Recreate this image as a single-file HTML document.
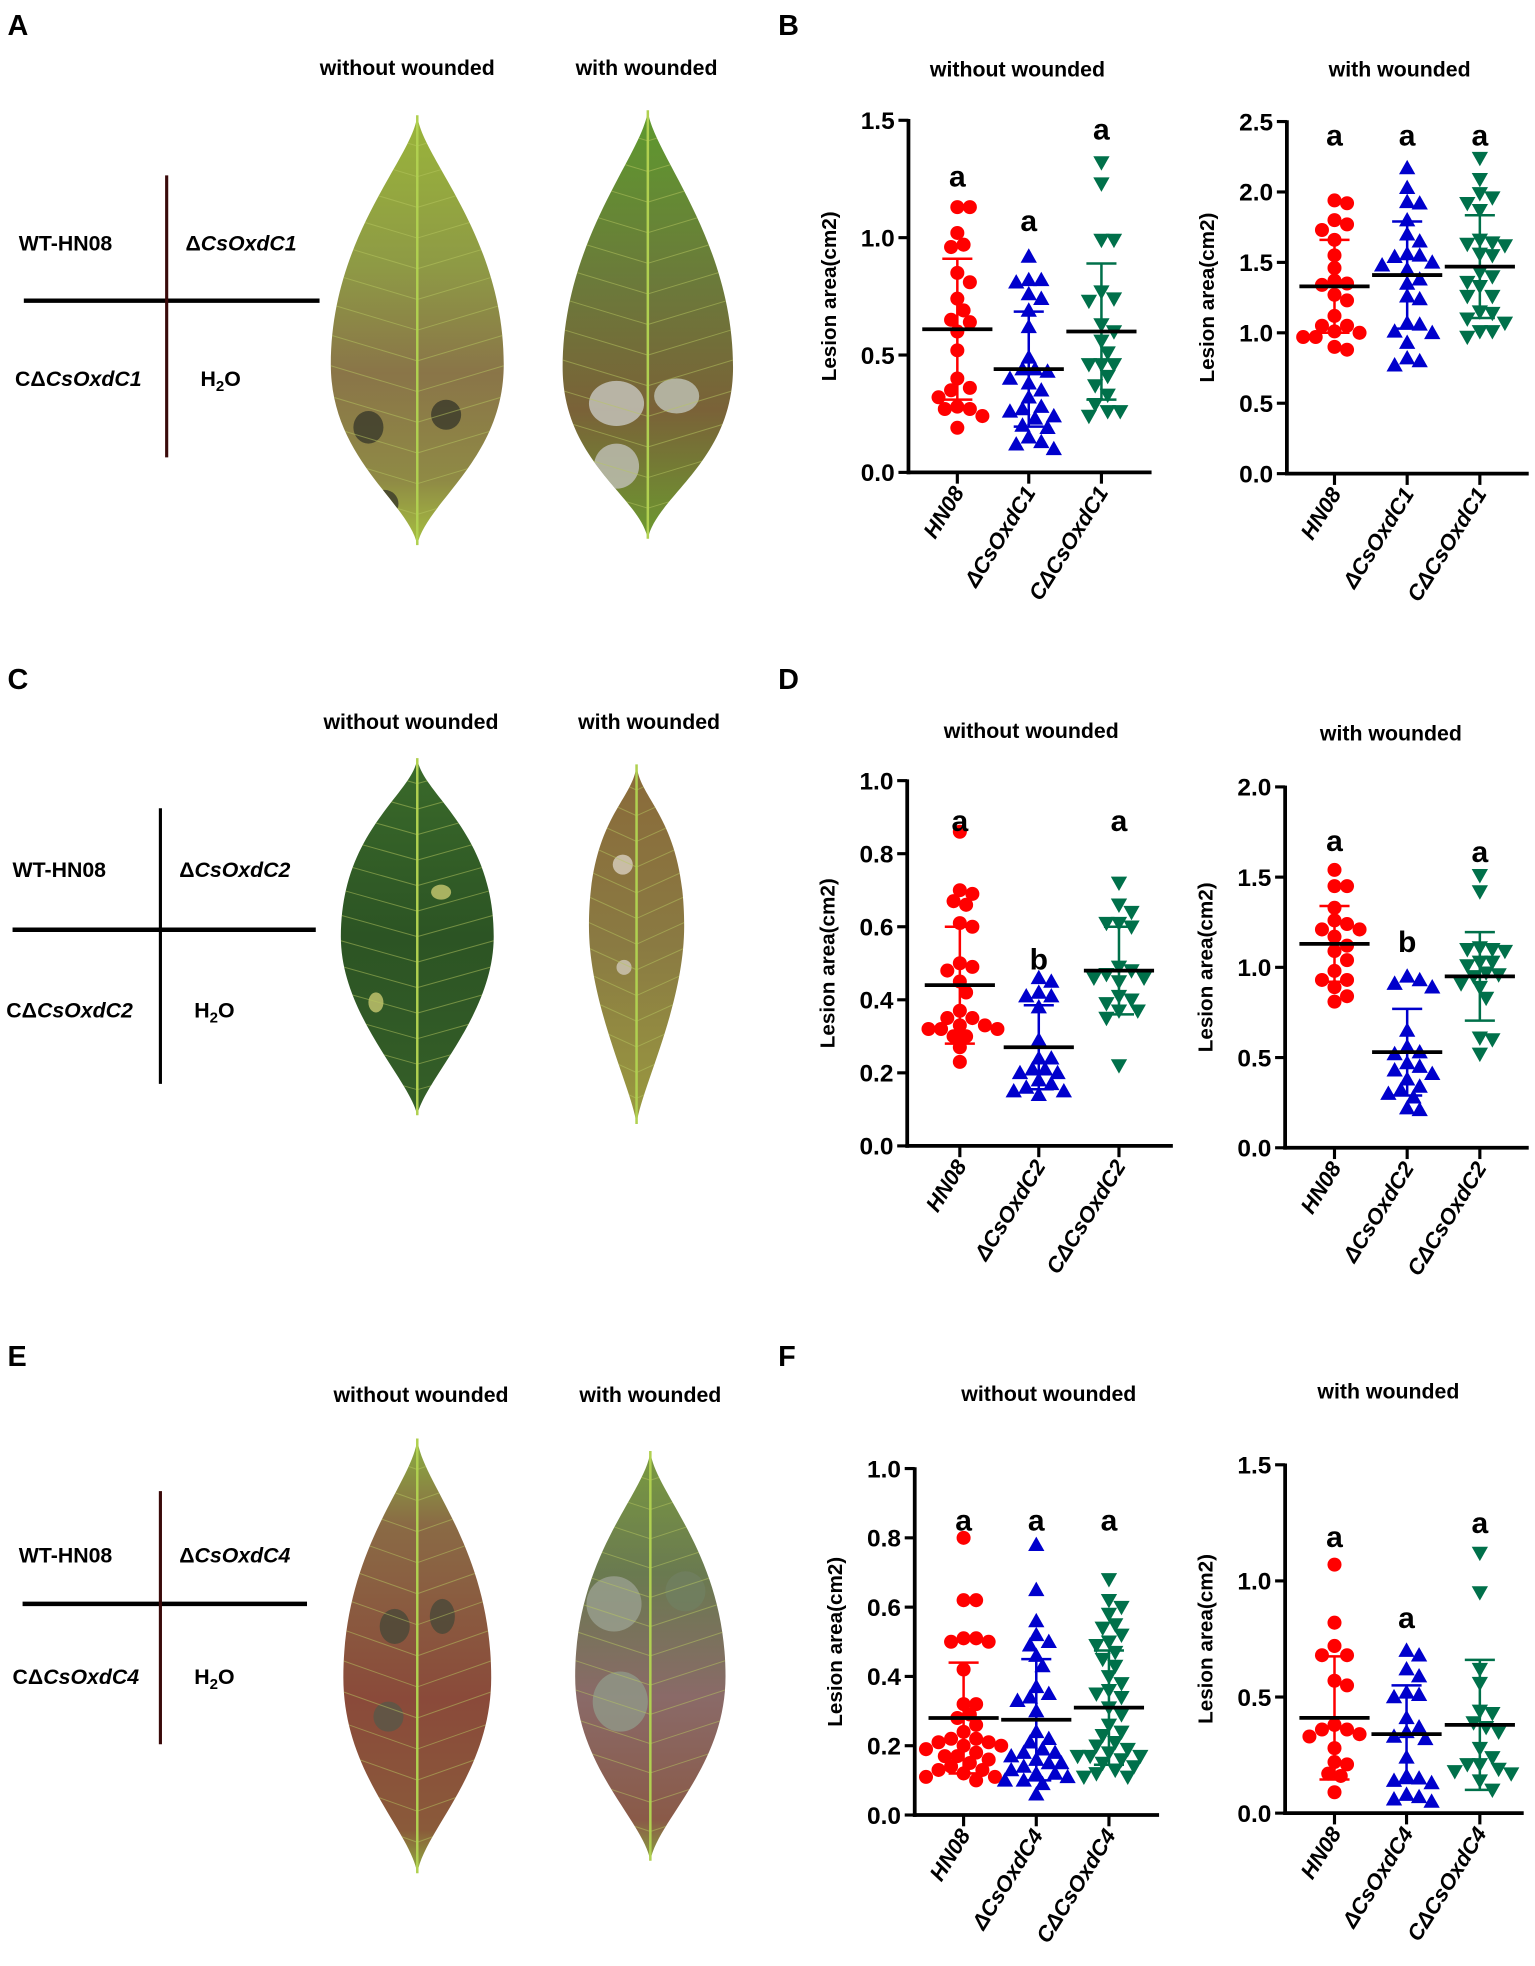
<!DOCTYPE html>
<html><head><meta charset="utf-8">
<style>
html,body{margin:0;padding:0;background:#fff;}
svg{display:block;font-family:"Liberation Sans",Arial,sans-serif;}
</style></head>
<body>
<svg id="fig" width="1535" height="1966" viewBox="0 0 1225 1569" xmlns="http://www.w3.org/2000/svg">
<defs>
<linearGradient id="g1" x1="0" y1="0" x2="0" y2="1"><stop offset="0" stop-color="#9ab53a"/><stop offset="0.35" stop-color="#8e9a45"/><stop offset="0.6" stop-color="#8a7548"/><stop offset="0.85" stop-color="#8f8a45"/><stop offset="1" stop-color="#a6c040"/></linearGradient>
<linearGradient id="g2" x1="0" y1="0" x2="0" y2="1"><stop offset="0" stop-color="#5e9a2e"/><stop offset="0.4" stop-color="#6b7a3a"/><stop offset="0.7" stop-color="#7a6238"/><stop offset="1" stop-color="#6c9a30"/></linearGradient>
<linearGradient id="g3" x1="0" y1="0" x2="0" y2="1"><stop offset="0" stop-color="#3a6a2a"/><stop offset="0.5" stop-color="#2c5424"/><stop offset="1" stop-color="#355f28"/></linearGradient>
<linearGradient id="g4" x1="0" y1="0" x2="0" y2="1"><stop offset="0" stop-color="#8a6a3a"/><stop offset="0.5" stop-color="#8a7a42"/><stop offset="1" stop-color="#9a9a40"/></linearGradient>
<linearGradient id="g5" x1="0" y1="0" x2="0" y2="1"><stop offset="0" stop-color="#8ab040"/><stop offset="0.2" stop-color="#8a6a45"/><stop offset="0.6" stop-color="#8a4a3a"/><stop offset="0.9" stop-color="#8a5a3a"/><stop offset="1" stop-color="#90b040"/></linearGradient>
<linearGradient id="g6" x1="0" y1="0" x2="0" y2="1"><stop offset="0" stop-color="#7a9a40"/><stop offset="0.3" stop-color="#6a7a50"/><stop offset="0.6" stop-color="#8a6a68"/><stop offset="0.9" stop-color="#8a5a48"/><stop offset="1" stop-color="#8aa040"/></linearGradient>
</defs>
<g id="left"></g>
<g id="charts"></g>
</svg>
<script>
// ---------- DATA ----------
const categoriesC1 = ["HN08", "\u0394CsOxdC1", "C\u0394CsOxdC1"];
const categoriesC2 = ["HN08", "\u0394CsOxdC2", "C\u0394CsOxdC2"];
const categoriesC4 = ["HN08", "\u0394CsOxdC4", "C\u0394CsOxdC4"];

const bLeftHN08 = [1.13,1.13,1.02,0.97,0.96,0.85,0.81,0.74,0.69,0.65,0.64,0.60,0.52,0.40,0.36,0.35,0.32,0.28,0.27,0.27,0.24,0.19];
const bLeftDel = [0.92,0.82,0.82,0.81,0.76,0.74,0.69,0.62,0.49,0.44,0.44,0.43,0.40,0.38,0.35,0.32,0.28,0.27,0.26,0.24,0.23,0.20,0.19,0.15,0.13,0.12,0.10];
const bLeftComp = [1.32,1.23,0.99,0.99,0.77,0.74,0.73,0.63,0.60,0.56,0.51,0.46,0.46,0.46,0.41,0.37,0.33,0.29,0.26,0.26,0.24];
const bLeftMean = [0.61,0.44,0.60];
const bLeftSD = [0.30,0.245,0.29];
const bLeftLetters = ["a","a","a"];
const bLeftLetterY = [1.26,1.07,1.46];

const bRightHN08 = [1.94,1.92,1.80,1.77,1.73,1.66,1.55,1.46,1.37,1.35,1.34,1.27,1.23,1.12,1.05,1.05,1.01,1.00,0.97,0.97,0.90,0.88];
const bRightDel = [2.17,2.03,1.93,1.92,1.80,1.70,1.65,1.56,1.55,1.54,1.50,1.48,1.45,1.38,1.35,1.26,1.24,1.07,1.06,1.01,1.00,0.93,0.82,0.80,0.77];
const bRightComp = [2.24,2.09,1.99,1.96,1.92,1.87,1.66,1.64,1.63,1.62,1.56,1.55,1.43,1.40,1.36,1.33,1.26,1.26,1.15,1.14,1.10,1.07,1.01,1.01,0.97];
const bRightMean = [1.33,1.41,1.47];
const bRightSD = [0.33,0.38,0.365];
const bRightLetters = ["a","a","a"];
const bRightLetterY = [2.40,2.40,2.40];

const dLeftHN08 = [0.86,0.70,0.69,0.67,0.66,0.61,0.60,0.50,0.49,0.48,0.45,0.42,0.37,0.35,0.35,0.33,0.33,0.32,0.32,0.32,0.30,0.30,0.27,0.23];
const dLeftDel = [0.46,0.45,0.42,0.41,0.41,0.38,0.29,0.24,0.24,0.21,0.21,0.20,0.20,0.18,0.17,0.16,0.15,0.15,0.14];
const dLeftComp = [0.72,0.66,0.64,0.61,0.61,0.60,0.49,0.48,0.47,0.46,0.46,0.45,0.41,0.40,0.39,0.37,0.37,0.35,0.22];
const dLeftMean = [0.44,0.27,0.48];
const dLeftSD = [0.16,0.115,0.12];
const dLeftLetters = ["a","b","a"];
const dLeftLetterY = [0.89,0.51,0.89];

const dRightHN08 = [1.54,1.45,1.45,1.33,1.26,1.24,1.21,1.21,1.17,1.12,1.09,1.04,0.98,0.93,0.93,0.89,0.84,0.81];
const dRightDel = [0.95,0.93,0.91,0.89,0.65,0.56,0.53,0.52,0.47,0.45,0.43,0.41,0.38,0.34,0.32,0.30,0.28,0.22,0.21];
const dRightComp = [1.51,1.42,1.11,1.10,1.10,1.09,1.03,1.03,1.01,0.97,0.96,0.95,0.91,0.89,0.83,0.61,0.60,0.52];
const dRightMean = [1.13,0.53,0.95];
const dRightSD = [0.21,0.24,0.245];
const dRightLetters = ["a","b","a"];
const dRightLetterY = [1.70,1.14,1.64];

const fLeftHN08 = [0.80,0.62,0.62,0.51,0.51,0.50,0.50,0.42,0.32,0.32,0.29,0.28,0.26,0.24,0.22,0.22,0.21,0.21,0.20,0.20,0.18,0.17,0.17,0.16,0.14,0.13,0.12,0.11,0.10,0.19,0.15,0.13,0.11];
const fLeftDel = [0.78,0.65,0.56,0.52,0.50,0.49,0.46,0.43,0.37,0.35,0.34,0.33,0.30,0.24,0.22,0.21,0.19,0.18,0.18,0.17,0.16,0.15,0.15,0.14,0.13,0.12,0.12,0.11,0.10,0.10,0.09,0.06];
const fLeftComp = [0.68,0.62,0.60,0.58,0.55,0.54,0.52,0.50,0.49,0.47,0.45,0.43,0.40,0.38,0.36,0.35,0.34,0.31,0.29,0.26,0.24,0.23,0.21,0.20,0.19,0.18,0.17,0.17,0.17,0.16,0.15,0.14,0.13,0.12,0.11,0.11];
const fLeftMean = [0.28,0.275,0.31];
const fLeftSD = [0.16,0.175,0.165];
const fLeftLetters = ["a","a","a"];
const fLeftLetterY = [0.85,0.85,0.85];

const fRightHN08 = [1.07,0.82,0.72,0.68,0.68,0.57,0.55,0.38,0.36,0.36,0.34,0.33,0.28,0.22,0.21,0.17,0.16,0.09];
const fRightDel = [0.70,0.68,0.62,0.59,0.52,0.51,0.50,0.41,0.37,0.35,0.33,0.32,0.24,0.16,0.15,0.14,0.13,0.08,0.07,0.06,0.05];
const fRightComp = [1.12,0.95,0.62,0.56,0.44,0.43,0.39,0.37,0.35,0.28,0.24,0.21,0.21,0.19,0.18,0.17,0.14,0.10];
const fRightMean = [0.41,0.34,0.38];
const fRightSD = [0.265,0.21,0.28];
const fRightLetters = ["a","a","a"];
const fRightLetterY = [1.19,0.84,1.25];

const ticksB1 = [0,0.5,1.0,1.5];
const ticksB2 = [0,0.5,1.0,1.5,2.0,2.5];
const ticksD1 = [0,0.2,0.4,0.6,0.8,1.0];
const ticksD2 = [0,0.5,1.0,1.5,2.0];
const ticksF1 = [0,0.2,0.4,0.6,0.8,1.0];
const ticksF2 = [0,0.5,1.0,1.5];

// ---------- LAYOUT ----------
const NS = "http://www.w3.org/2000/svg";
function mk(tag, attrs, parent){
  const e = document.createElementNS(NS, tag);
  for (const k in attrs) e.setAttribute(k, attrs[k]);
  if (parent) parent.appendChild(e);
  return e;
}
const colors = ["#ff0000","#0000cc","#00704a"];
const chartsG = document.getElementById("charts");
function fmt(v){ return v.toFixed(1); }

function drawChart(cfg){
  const g = mk("g", {}, chartsG);
  
  
  const yScale = v => cfg.y0 - v / cfg.ymax * (cfg.y0 - cfg.ytop);
  const xScale = i => cfg.cats[i];
  const t = mk("text", {x: cfg.titleX, y: cfg.titleY, "text-anchor":"middle", "font-size":17, "font-weight":"bold"}, g);
  t.textContent = cfg.title;
  
  
  const midY = (cfg.y0 + cfg.ytop)/2;
  const yt = mk("text", {x: 0, y: 0, transform:`translate(${cfg.ax-58},${midY}) rotate(-90)`, "text-anchor":"middle", "font-size":16.5, "font-weight":"bold"}, g);
  yt.textContent = "Lesion area(cm2)";
  
  
  const yax = mk("line", {x1: cfg.ax, y1: cfg.ytop-1, x2: cfg.ax, y2: cfg.y0+1.5, stroke:"#000", "stroke-width":3}, g);
  
  
  const xax = mk("line", {x1: cfg.ax-1.5, y1: cfg.y0, x2: cfg.xend, y2: cfg.y0, stroke:"#000", "stroke-width":3}, g);
  
  
  cfg.ticks.forEach(v => {
    const y = yScale(v);
    const tk = mk("line", {x1: cfg.ax-8, y1: y, x2: cfg.ax, y2: y, stroke:"#000", "stroke-width":2.5}, g);
    
    
    const tl = mk("text", {x: cfg.ax-11, y: y+7, "text-anchor":"end", "font-size":19.5, "font-weight":"bold"}, g);
    tl.textContent = fmt(v);
    
    
  });
  cfg.labels.forEach((lab, i) => {
    const x = xScale(i);
    const tk = mk("line", {x1: x, y1: cfg.y0, x2: x, y2: cfg.y0+9, stroke:"#000", "stroke-width":2.5}, g);
    
    
    const tl = mk("text", {x:0, y:0, transform:`translate(${x+6},${cfg.y0+16}) rotate(-58)`, "text-anchor":"end", "font-size":17.5, "font-weight":"bold", "font-style":"italic"}, g);
    tl.textContent = lab;
    
    
  });
  cfg.series.forEach((vals, i) => {
    const cx = xScale(i);
    const col = colors[i];
    const sg = mk("g", {}, g);
    
    
    const r = 5.6, dmin = 9.5;
    const placed = [];
    const sorted = vals.slice().sort((a,b)=>b-a);
    sorted.forEach(v => {
      const y = yScale(v);
      let off = 0;
      for (let k=0;k<40;k++){
        const cand = (k===0)?0:((k%2? 1:-1)*Math.ceil(k/2)*5);
        let ok = true;
        for (const p of placed){ const dx=p[0]-(cx+cand), dy=p[1]-y; if (dx*dx+dy*dy < dmin*dmin){ ok=false; break; } }
        if (ok){ off=cand; break; }
      }
      const px = cx+off;
      placed.push([px,y]);
      let m;
      if (i===0) m = mk("circle", {cx:px, cy:y, r:r, fill:col}, sg);
      else if (i===1) m = mk("polygon", {points:`${px},${y-6.5} ${px-6.5},${y+5} ${px+6.5},${y+5}`, fill:col}, sg);
      else m = mk("polygon", {points:`${px},${y+6.5} ${px-6.5},${y-5} ${px+6.5},${y-5}`, fill:col}, sg);
      
      
    });
    const mean = cfg.mean[i], sd = cfg.sd[i];
    const yt1 = yScale(mean+sd), yb1 = yScale(Math.max(0,mean-sd)), ym = yScale(mean);
    const er = mk("path", {d:`M${cx},${yt1}V${yb1}M${cx-12},${yt1}H${cx+12}M${cx-12},${yb1}H${cx+12}`, stroke:col, "stroke-width":2, fill:"none"}, sg);
    
    
    const ml = mk("line", {x1:cx-28, y1:ym, x2:cx+28, y2:ym, stroke:"#000", "stroke-width":3}, sg);
    
    
    const lt = mk("text", {x:cx, y:yScale(cfg.letterY[i])+8, "text-anchor":"middle", "font-size":24, "font-weight":"bold"}, sg);
    lt.textContent = cfg.letters[i];
    
    
  });
}

drawChart({name:"chart-b-without-wounded", title:"without wounded", titleX:812, titleY:61, ax:725, y0:377, ytop:96, ymax:1.5, xend:919, cats:[764,821,879], ticks:ticksB1, labels:categoriesC1, series:[bLeftHN08,bLeftDel,bLeftComp], mean:bLeftMean, sd:bLeftSD, letters:bLeftLetters, letterY:bLeftLetterY});
drawChart({name:"chart-b-with-wounded", title:"with wounded", titleX:1117, titleY:61, ax:1027, y0:378, ytop:97, ymax:2.5, xend:1220, cats:[1065,1123,1181], ticks:ticksB2, labels:categoriesC1, series:[bRightHN08,bRightDel,bRightComp], mean:bRightMean, sd:bRightSD, letters:bRightLetters, letterY:bRightLetterY});
drawChart({name:"chart-d-without-wounded", title:"without wounded", titleX:823, titleY:589, ax:724, y0:914.5, ytop:623, ymax:1.0, xend:936, cats:[766,829,893], ticks:ticksD1, labels:categoriesC2, series:[dLeftHN08,dLeftDel,dLeftComp], mean:dLeftMean, sd:dLeftSD, letters:dLeftLetters, letterY:dLeftLetterY});
drawChart({name:"chart-d-with-wounded", title:"with wounded", titleX:1110, titleY:591, ax:1025.6, y0:916, ytop:628, ymax:2.0, xend:1220, cats:[1065,1123,1181], ticks:ticksD2, labels:categoriesC2, series:[dRightHN08,dRightDel,dRightComp], mean:dRightMean, sd:dRightSD, letters:dRightLetters, letterY:dRightLetterY});
drawChart({name:"chart-f-without-wounded", title:"without wounded", titleX:837, titleY:1118, ax:730, y0:1448.5, ytop:1172, ymax:1.0, xend:925, cats:[769,827,885], ticks:ticksF1, labels:categoriesC4, series:[fLeftHN08,fLeftDel,fLeftComp], mean:fLeftMean, sd:fLeftSD, letters:fLeftLetters, letterY:fLeftLetterY});
drawChart({name:"chart-f-with-wounded", title:"with wounded", titleX:1108, titleY:1116, ax:1025.6, y0:1447, ytop:1169, ymax:1.5, xend:1216, cats:[1065,1122.5,1181], ticks:ticksF2, labels:categoriesC4, series:[fRightHN08,fRightDel,fRightComp], mean:fRightMean, sd:fRightSD, letters:fRightLetters, letterY:fRightLetterY});

// ---------- LEFT PANELS ----------
const L = document.getElementById("left");
const defs = document.querySelector("defs");
function txt(x,y,s,opts,name){
  const t = mk("text", Object.assign({x:x,y:y,"font-size":17,"font-weight":"bold"}, opts||{}), L);
  t.innerHTML = s;
  
  
  return t;
}
function panelLabel(x,y,s){ txt(x,y,s,{"font-size":23},"panel-label-"+s.toLowerCase()); }
panelLabel(6,28,"A"); panelLabel(621,28,"B");
panelLabel(6,550,"C"); panelLabel(621,550,"D");
panelLabel(6,1090,"E"); panelLabel(621,1090,"F");

function grid(vx,vy1,vy2,hy,hx1,hx2,vcol,labs,n){
  const gg = mk("g", {}, L);
  
  
  mk("line",{x1:hx1,y1:hy,x2:hx2,y2:hy,stroke:"#000","stroke-width":3.5},gg);
  mk("line",{x1:vx,y1:vy1,x2:vx,y2:vy2,stroke:vcol,"stroke-width":2.5},gg);
  txt(labs[0][0],labs[0][1],"WT-HN08",{},"label-wt-hn08");
  txt(labs[1][0],labs[1][1],"\u0394<tspan font-style=\"italic\">CsOxdC"+n+"</tspan>",{},"label-mutant");
  txt(labs[2][0],labs[2][1],"C\u0394<tspan font-style=\"italic\">CsOxdC"+n+"</tspan>",{},"label-complement");
  txt(labs[3][0],labs[3][1],"H<tspan font-size=\"12\" dy=\"4\">2</tspan><tspan dy=\"-4\">O</tspan>",{},"label-h2o");
}
grid(133,140,365,240,19,255,"#3a0a0a",[[15,200],[148,200],[12,308],[160,308]],1);
grid(128,645,865,742,10,252,"#000",[[10,700],[143,700],[5,812],[155,812]],2);
grid(128,1190,1392,1280,18,245,"#3a0a0a",[[15,1247],[143,1247],[10,1344],[155,1344]],4);

txt(325,60,"without wounded",{"text-anchor":"middle"},"photo-title-without-wounded");
txt(516,60,"with wounded",{"text-anchor":"middle"},"photo-title-with-wounded");
txt(328,582,"without wounded",{"text-anchor":"middle"},"photo-title-without-wounded");
txt(518,582,"with wounded",{"text-anchor":"middle"},"photo-title-with-wounded");
txt(336,1119,"without wounded",{"text-anchor":"middle"},"photo-title-without-wounded");
txt(519,1119,"with wounded",{"text-anchor":"middle"},"photo-title-with-wounded");

let leafId = 0;
function leaf(cx,top,bot,w,fill,name,spots,peak){
  const h = bot-top, hw = w/2, p = peak||0.55;
  const gg = mk("g", {}, L);
  
  
  const d = `M${cx},${top} C${cx+hw*0.05},${top+h*0.1} ${cx+hw},${top+h*(p-0.3)} ${cx+hw},${top+h*p} C${cx+hw},${top+h*(p+0.22)} ${cx+hw*0.1},${bot-h*0.1} ${cx},${bot} C${cx-hw*0.1},${bot-h*0.1} ${cx-hw},${top+h*(p+0.22)} ${cx-hw},${top+h*p} C${cx-hw},${top+h*(p-0.3)} ${cx-hw*0.05},${top+h*0.1} ${cx},${top} Z`;
  const id = "lc" + (leafId++);
  const cp = mk("clipPath",{id:id},defs);
  mk("path",{d:d},cp);
  mk("path",{d:d,fill:fill},gg);
  const inner = mk("g",{"clip-path":`url(#${id})`},gg);
  spots.forEach(s => mk("ellipse",{cx:s[0],cy:s[1],rx:s[2],ry:s[3],fill:s[4],opacity:0.8},inner));
  for (let k=1;k<14;k++){
    const y = top + h*k/14;
    mk("path",{d:`M${cx},${y} L${cx+hw},${y-h*0.06} M${cx},${y} L${cx-hw},${y-h*0.06}`,stroke:"#b8c860","stroke-width":0.8,opacity:0.5,fill:"none"},inner);
  }
  mk("line",{x1:cx,y1:top,x2:cx,y2:bot,stroke:"#b0d050","stroke-width":2},gg);
}
leaf(333,92,435,138,"url(#g1)","leaf-c1-without-wounded",[[294,341,12,13,"#3a3a2a"],[356,331,12,12,"#3a3a2a"],[307,402,11,11,"#3a3a2a"]],0.58);
leaf(517,88,430,136,"url(#g2)","leaf-c1-with-wounded",[[492,322,22,18,"#c8c8c0"],[540,316,18,14,"#c0c4b8"],[492,372,18,18,"#c0c0b8"]],0.6);
leaf(333,605,890,122,"url(#g3)","leaf-c2-without-wounded",[[300,800,6,8,"#c8c870"],[352,712,8,6,"#c8c870"]],0.5);
leaf(508,610,897,76,"url(#g4)","leaf-c2-with-wounded",[[497,690,8,8,"#d8d0c0"],[498,772,6,6,"#d0c8b8"]],0.45);
leaf(333,1148,1495,118,"url(#g5)","leaf-c4-without-wounded",[[315,1298,12,14,"#484838"],[353,1290,10,14,"#484838"],[310,1370,12,12,"#585848"]],0.55);
leaf(519,1158,1485,120,"url(#g6)","leaf-c4-with-wounded",[[490,1280,22,22,"#9aa090"],[547,1270,16,16,"#708060"],[495,1358,22,24,"#909888"]],0.55);
</script>
</body></html>
